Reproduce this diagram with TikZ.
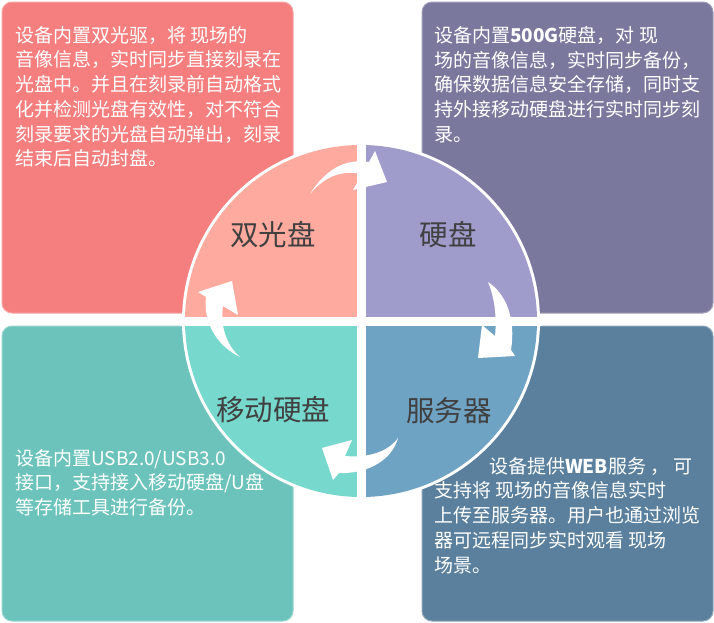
\documentclass[tikz,border=0pt]{standalone}
\usepackage{fontspec}
\setmainfont{Noto Sans CJK SC}
\usetikzlibrary{calc}

\definecolor{dvdcard}{HTML}{F47F7E}
\definecolor{dvdpart}{HTML}{FFAA9E}
\definecolor{hddcard}{HTML}{7B789E}
\definecolor{hddpart}{HTML}{9F9CCC}
\definecolor{usbcard}{HTML}{6CC3BB}
\definecolor{usbpart}{HTML}{77D8CE}
\definecolor{srvcard}{HTML}{5A809D}
\definecolor{srvpart}{HTML}{6FA3C4}
\definecolor{labelgray}{HTML}{404040}

\begin{document}
\begin{tikzpicture}[x=1pt,y=-1pt,
  card/.style={fill=#1,draw=#1!70!white,line width=1pt,rounded corners=10pt},
  desc/.style={text=white,align=left,inner sep=0pt,anchor=north west,
    font=\fontsize{19}{24.7}\selectfont},
  lbl/.style={text=labelgray,inner sep=0pt,font=\fontsize{28.5}{30}\selectfont},
  turn/.style={fill=white}]

\useasboundingbox (0,0) rectangle (714,622);

% cards
\path[card=dvdcard] (2,2) rectangle (293,313);
\path[card=hddcard] (422,2) rectangle (713,313);
\path[card=usbcard] (2,326) rectangle (293,621);
\path[card=srvcard] (422,326) rectangle (713,621);

% disc
\coordinate (c) at (361,321);
\coordinate (n) at (361,140);
\coordinate (s) at (361,502);
\coordinate (w) at (180,321);
\coordinate (e) at (542,321);
\fill[white] (c) circle[radius=179];
\fill[dvdpart] (c) -- ++(-176,0) arc[start angle=180,end angle=270,radius=176] -- cycle;
\fill[hddpart] (c) -- ++(0,-176) arc[start angle=270,end angle=360,radius=176] -- cycle;
\fill[srvpart] (c) -- ++(176,0) arc[start angle=0,end angle=90,radius=176] -- cycle;
\fill[usbpart] (c) -- ++(0,176) arc[start angle=90,end angle=180,radius=176] -- cycle;
\draw[white,line width=9pt] (n) -- (s);
\draw[white,line width=9pt] (w) -- (e);

% turning arrows
\path[turn] (310,194) .. controls (325,170) and (345,158) .. (369,162) -- (375,151)
  -- (387,182) -- (353,190) -- (362,174) .. controls (342,170) and (325,176) .. (310,194);
\path[turn] (488,282) .. controls (506,294) and (516,318) .. (511,350) -- (515,356)
  -- (478,358) -- (482,325) -- (495,336) .. controls (497,315) and (494,296) .. (488,282);
\path[turn] (398,438) .. controls (392,460) and (368,474) .. (339,473) -- (333,480)
  -- (322,448) -- (352,440) -- (345,456) .. controls (368,458) and (388,452) .. (398,438);
\path[turn] (240,357) .. controls (215,345) and (203,320) .. (206,297) -- (198,292)
  -- (232,281) -- (238,315) -- (223,306) .. controls (220,325) and (226,345) .. (240,357);

% labels
\node[lbl] (dvd) at (273,235) {双光盘};
\node[lbl] (hdd) at (448,235) {硬盘};
\node[lbl] (usb) at (273,410) {移动硬盘};
\node[lbl] (srv) at (449,411) {服务器};

% texts
\node[desc] (dvdtext) at (15,26) {设备内置双光驱，将 现场的\\音像信息，实时同步直接刻录在\\光盘中。并且在刻录前自动格式\\化并检测光盘有效性，对不符合\\刻录要求的光盘自动弹出，刻录\\结束后自动封盘。};
\node[desc] (hddtext) at (434,26) {设备内置\textbf{500G}硬盘，对 现\\场的音像信息，实时同步备份，\\确保数据信息安全存储，同时支\\持外接移动硬盘进行实时同步刻\\录。};
\node[desc] (usbtext) at (15,449) {设备内置USB2.0/USB3.0\\接口，支持接入移动硬盘/U盘\\等存储工具进行备份。};
\node[desc] (srvtext) at (434,457) {\hspace*{55pt}设备提供\textbf{WEB}服务 ， 可\\支持将 现场的音像信息实时\\上传至服务器。用户也通过浏览\\器可远程同步实时观看 现场\\场景。};

\end{tikzpicture}
\end{document}
